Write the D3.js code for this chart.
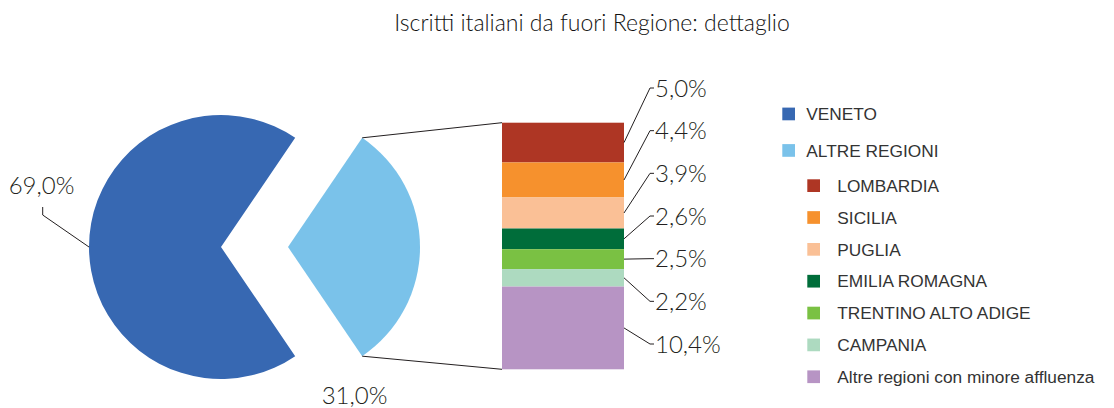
<!DOCTYPE html>
<head>
<meta charset="utf-8">
<script src="https://d3js.org/d3.v7.min.js"></script>
<style>
body { margin: 0; background: #fff; }
svg text { font-family: 'Lato', 'Liberation Sans', sans-serif; fill: #231f20; }
.title { font-size: 23px; font-weight: 300; fill: #111; }
.pct { font-size: 24px; font-weight: 300; }
.legend text { font-family: 'Liberation Sans', sans-serif; font-size: 17.3px; fill: #333; }
.leader { fill: none; stroke: #231f20; stroke-width: 1; }
</style>
</head>
<body>
<div id="chart"></div>
<script>
// valori
var pieLabels = ["VENETO", "ALTRE REGIONI"];
var pieValues = [69.0, 31.0];
var pieColors = ["#3768b2", "#7ac2ea"];

var barLabels = ["LOMBARDIA", "SICILIA", "PUGLIA", "EMILIA ROMAGNA", "TRENTINO ALTO ADIGE", "CAMPANIA", "Altre regioni con minore affluenza"];
var barValues = [5.0, 4.4, 3.9, 2.6, 2.5, 2.2, 10.4];
var barColors = ["#ae3624", "#f6912d", "#fac096", "#006d3a", "#7ac143", "#addac0", "#b794c4"];

var title = "Iscritti italiani da fuori Regione: dettaglio";

function fmt(v) { return d3.format(".1f")(v).replace(".", ",") + "%"; }

var width = 1114, height = 408;
var svg = d3.select("#chart").append("svg")
    .attr("width", width)
    .attr("height", height);

svg.append("text").attr("class", "title")
    .attr("x", 592).attr("y", 31)
    .attr("text-anchor", "middle")
    .text(title);

// torta
var r = 132, cy = 247;
var centers = [221, 288];
var share = pieValues[1] / d3.sum(pieValues);
var start = Math.PI / 2 + share * Math.PI;
var pie = d3.pie().sort(null).startAngle(start).endAngle(start + 2 * Math.PI);
var arcs = pie(pieValues);
var arc = d3.arc().innerRadius(0).outerRadius(r);

svg.selectAll(".slice").data(arcs).enter().append("path")
    .attr("class", "slice")
    .attr("transform", function(d, i) { return "translate(" + centers[i] + "," + cy + ")"; })
    .attr("d", arc)
    .attr("fill", function(d, i) { return pieColors[i]; });

function pt(cx, a) { return [cx + r * Math.sin(a), cy - r * Math.cos(a)]; }

// barra di dettaglio
var barX = 502, barW = 122, barTop = 122.7, barBottom = 369.3;
var total = d3.sum(barValues);
var y = d3.scaleLinear().domain([0, total]).range([barTop, barBottom]);
var cum = [0].concat(Array.from(d3.cumsum(barValues)));

svg.selectAll(".seg").data(barValues).enter().append("rect")
    .attr("class", "seg")
    .attr("x", barX).attr("width", barW)
    .attr("y", function(d, i) { return y(cum[i]); })
    .attr("height", function(d, i) { return y(cum[i + 1]) - y(cum[i]); })
    .attr("fill", function(d, i) { return barColors[i]; });

// linee fetta -> barra
var alt = arcs[1];
var pTop = pt(centers[1], alt.startAngle), pBot = pt(centers[1], alt.endAngle);
svg.append("line").attr("class", "leader")
    .attr("x1", pTop[0]).attr("y1", pTop[1]).attr("x2", barX).attr("y2", y(0));
svg.append("line").attr("class", "leader")
    .attr("x1", pBot[0]).attr("y1", pBot[1]).attr("x2", barX).attr("y2", y(total));

// etichette barra
var labY = d3.scaleLinear().domain([0, barValues.length - 1]).range([88, 344]);
var bx = barX + barW;
barValues.forEach(function(v, i) {
    var my = (y(cum[i]) + y(cum[i + 1])) / 2, ly = labY(i);
    svg.append("path").attr("class", "leader")
        .attr("d", d3.line()([[bx, my], [bx + 26, ly], [bx + 30, ly]]));
    svg.append("text").attr("class", "pct")
        .attr("x", bx + 31).attr("y", ly).attr("dy", "0.36em")
        .text(fmt(v));
});

// etichette torta
var pl = pt(centers[0], 1.5 * Math.PI);
svg.append("path").attr("class", "leader")
    .attr("d", d3.line()([[pl[0], pl[1]], [42.7, 215], [42.7, 207]]));
svg.append("text").attr("class", "pct")
    .attr("x", 41.5).attr("y", 194).attr("text-anchor", "middle")
    .text(fmt(pieValues[0]));
svg.append("text").attr("class", "pct")
    .attr("x", 354.5).attr("y", 404).attr("text-anchor", "middle")
    .text(fmt(pieValues[1]));

// legenda
var leg = svg.append("g").attr("class", "legend");
var items = pieLabels.map(function(l, i) { return { label: l, color: pieColors[i], sub: false }; })
    .concat(barLabels.map(function(l, i) { return { label: l, color: barColors[i], sub: true }; }));
var legY = [114, 150.5].concat(barLabels.map(function(d, i) { return 185.7 + i * 31.85; }));

var li = leg.selectAll("g").data(items).enter().append("g")
    .attr("transform", function(d, i) { return "translate(" + (d.sub ? 807.3 : 782.3) + "," + legY[i] + ")"; });
li.append("rect")
    .attr("x", 0).attr("y", -6.4).attr("width", 12.7).attr("height", 12.7)
    .attr("fill", function(d) { return d.color; });
li.append("text")
    .attr("x", function(d) { return d.sub ? 30 : 24; })
    .attr("dy", "0.36em")
    .text(function(d) { return d.label; });
</script>
</body>
